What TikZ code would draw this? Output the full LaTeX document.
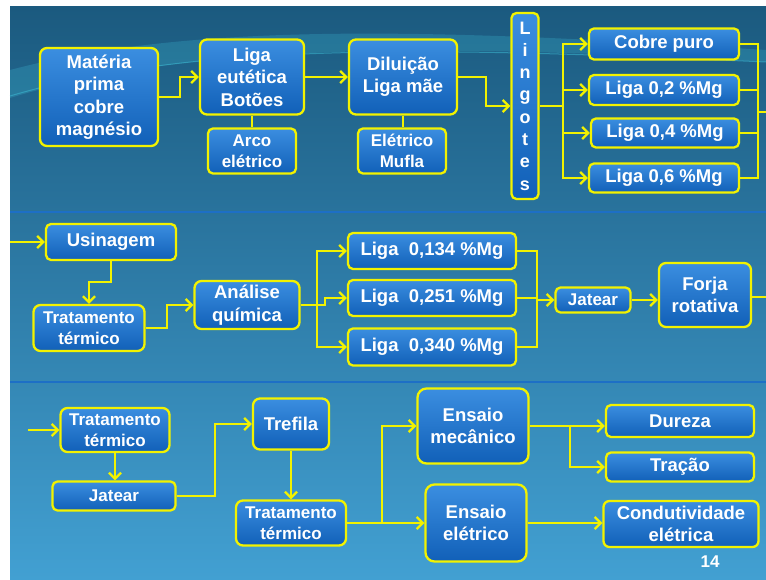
\documentclass[tikz,border=0pt]{standalone}
\usepackage{fontspec}
\setmainfont{Liberation Sans}
\usetikzlibrary{arrows.meta}
\definecolor{amarelo}{HTML}{F2F200}
\definecolor{azulC}{HTML}{3B8EE0}
\definecolor{azulE}{HTML}{1160B8}
\definecolor{fundoA}{HTML}{1B5A7F}
\definecolor{fundoB}{HTML}{42A0D2}
\definecolor{faixa}{HTML}{1D6FC6}
\definecolor{brilho}{HTML}{3FC0D8}
\tikzset{
  caixa/.style={draw=amarelo,line width=2.3pt,rounded corners=7pt,top color=azulC,bottom color=azulE,
    text=white,align=center,inner sep=0pt,font=\bfseries\fontsize{18.5}{22.5}\selectfont},
  menor/.style={font=\bfseries\fontsize{17}{20.5}\selectfont},
  seta/.style={amarelo,line width=2.3pt,-{Straight Barb[length=6pt,width=12pt]}},
  fio/.style={amarelo,line width=2.3pt},
}
\begin{document}
\begin{tikzpicture}[x=1pt,y=-1pt]
\useasboundingbox (0,0) rectangle (766,580);
\fill[white] (0,0) rectangle (766,580);
\shade[top color=fundoA,bottom color=fundoB] (10,7) rectangle (766,580);
\fill[brilho,opacity=0.25] (10,70) .. controls (200,20) and (450,30) .. (766,50) -- (766,62) .. controls (450,45) and (200,40) .. (10,98) -- cycle;
\draw[brilho,opacity=0.5,line width=1pt] (10,96) .. controls (200,40) and (450,48) .. (766,62);
\draw[faixa,line width=2.5pt] (10,212) -- (766,212);
\draw[faixa,line width=2.5pt] (10,382) -- (766,382);

\node[caixa,minimum width=118pt,minimum height=98pt] (mat) at (99,97) {Matéria\\prima\\cobre\\magnésio};
\node[caixa,minimum width=104pt,minimum height=75pt] (eut) at (252,77) {Liga\\eutética\\Botões};
\node[caixa,menor,rounded corners=5pt,minimum width=88pt,minimum height=45pt] (arco) at (252,151) {Arco\\elétrico};
\node[caixa,minimum width=108pt,minimum height=75pt] (dil) at (403,77) {Diluição\\Liga mãe};
\node[caixa,menor,rounded corners=5pt,minimum width=88pt,minimum height=45pt] (muf) at (402,151) {Elétrico\\Mufla};
\node[caixa,rounded corners=5pt,minimum width=27pt,minimum height=186pt,font=\bfseries\fontsize{18}{22.3}\selectfont] (ling) at (525,106) {L\\i\\n\\g\\o\\t\\e\\s};
\node[caixa,rounded corners=5pt,minimum width=150pt,minimum height=31pt] (cob) at (664,44) {Cobre puro};
\node[caixa,rounded corners=5pt,minimum width=150pt,minimum height=30pt] (l02) at (664,90) {Liga 0,2 \%Mg};
\node[caixa,rounded corners=5pt,minimum width=148pt,minimum height=29pt] (l04) at (665,133) {Liga 0,4 \%Mg};
\node[caixa,rounded corners=5pt,minimum width=150pt,minimum height=29pt] (l06) at (664,178) {Liga 0,6 \%Mg};
\coordinate (b1) at (563,106);
\coordinate (b2) at (758,112);
\coordinate (s1) at (766,112);

\draw[seta] (mat.east) -- ++(21,0) |- (eut.west);
\draw[fio] (eut.south) -- (arco.north);
\draw[seta] (eut.east) -- (dil.west);
\draw[fio] (dil.south) -- (dil.south |- muf.north);
\draw[seta] (dil.east) -- ++(28,0) |- (ling.west);
\draw[fio] (ling.east) -- (b1);
\draw[seta] (b1) |- (cob.west);
\draw[seta] (b1) |- (l02.west);
\draw[seta] (b1) |- (l04.west);
\draw[seta] (b1) |- (l06.west);
\draw[fio] (cob.east) -| (b2);
\draw[fio] (l02.east) -| (b2);
\draw[fio] (l04.east) -| (b2);
\draw[fio] (l06.east) -| (b2);
\draw[fio] (b2) -- (s1);

\node[caixa,rounded corners=5pt,minimum width=130pt,minimum height=36pt] (usi) at (111,242) {Usinagem};
\node[caixa,menor,minimum width=111pt,minimum height=46pt] (trat1) at (89,328) {Tratamento\\térmico};
\node[caixa,minimum width=105pt,minimum height=48pt] (ana) at (247,305) {Análise\\química};
\node[caixa,rounded corners=5pt,minimum width=168pt,minimum height=36pt] (l134) at (432,251) {Liga\ \ 0,134 \%Mg};
\node[caixa,rounded corners=5pt,minimum width=168pt,minimum height=36pt] (l251) at (432,298) {Liga\ \ 0,251 \%Mg};
\node[caixa,rounded corners=5pt,minimum width=168pt,minimum height=37pt] (l340) at (432,347) {Liga\ \ 0,340 \%Mg};
\node[caixa,menor,rounded corners=5pt,minimum width=75pt,minimum height=25pt] (jat1) at (593,300) {Jatear};
\node[caixa,minimum width=92pt,minimum height=64pt] (forja) at (705,295) {Forja\\rotativa};
\coordinate (e2) at (10,243);
\coordinate (b3) at (317,305);
\coordinate (b4) at (537,300);
\coordinate (s2) at (766,297);

\draw[seta] (usi.west -| e2) -- (usi.west);
\draw[seta] (usi.south) -- ++(0,21) -| (trat1.north);
\draw[seta] (trat1.east) -- ++(21,0) |- (ana.west);
\draw[fio] (ana.east) -- (b3);
\draw[seta] (b3) -- ++(8,0) |- (l251.west);
\draw[seta] (b3) |- (l134.west);
\draw[seta] (b3) |- (l340.west);
\draw[fio] (l134.east) -| (b4);
\draw[fio] (l251.east) -| (b4);
\draw[fio] (l340.east) -| (b4);
\draw[seta] (b4) -- (jat1.west);
\draw[seta] (jat1.east) -- (jat1.east -| forja.west);
\draw[fio] (forja.east |- s2) -- (s2);

\node[caixa,menor,minimum width=109pt,minimum height=44pt] (trat2) at (115,430) {Tratamento\\térmico};
\node[caixa,menor,rounded corners=5pt,minimum width=123pt,minimum height=29pt] (jat2) at (114,496) {Jatear};
\node[caixa,minimum width=76pt,minimum height=51pt] (tref) at (291,424) {Trefila};
\node[caixa,menor,minimum width=110pt,minimum height=45pt] (trat3) at (291,523) {Tratamento\\térmico};
\node[caixa,rounded corners=9pt,minimum width=111pt,minimum height=75pt] (ensm) at (473,426) {Ensaio\\mecânico};
\node[caixa,rounded corners=9pt,minimum width=101pt,minimum height=77pt] (ense) at (476,523) {Ensaio\\elétrico};
\node[caixa,rounded corners=5pt,minimum width=148pt,minimum height=32pt] (dur) at (680,421) {Dureza};
\node[caixa,rounded corners=5pt,minimum width=148pt,minimum height=29pt] (trac) at (680,467) {Tração};
\node[caixa,rounded corners=6pt,minimum width=155pt,minimum height=46pt] (cond) at (681,524) {Condutividade\\elétrica};
\node[text=white,font=\bfseries\fontsize{17}{20}\selectfont] (pag) at (710,562) {14};
\coordinate (e3) at (28,428);
\coordinate (b5) at (382,523);
\coordinate (b6) at (570,426);

\draw[seta] (trat2.west -| e3) -- (trat2.west);
\draw[seta] (trat2.south) -- (jat2.north -| trat2.south);
\draw[seta] (jat2.east) -- ++(38,0) |- (tref.west);
\draw[seta] (tref.south) -- (trat3.north);
\draw[fio] (trat3.east) -- (b5);
\draw[seta] (b5) |- (ensm.west);
\draw[seta] (b5) -- (ense.west);
\draw[fio] (ensm.east) -- (b6);
\draw[seta] (b6) -- (b6 -| dur.west);
\draw[seta] (b6) |- (trac.west);
\draw[seta] (ense.east) -- (ense.east -| cond.west);
\end{tikzpicture}
\end{document}
